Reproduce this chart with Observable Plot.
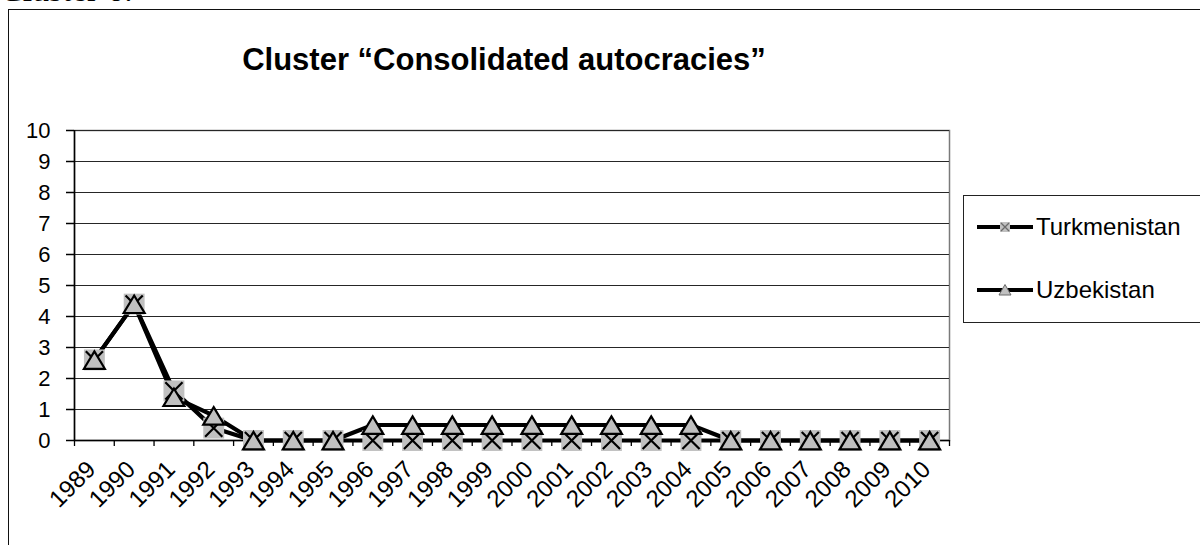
<!DOCTYPE html>
<html>
<head>
<meta charset="utf-8">
<script src="https://cdn.jsdelivr.net/npm/d3@7"></script>
<script src="https://cdn.jsdelivr.net/npm/@observablehq/plot@0.6"></script>
<style>
  body { margin: 0; background: #fff; overflow: hidden; }
  #page { position: relative; width: 1200px; height: 545px; overflow: hidden; font-family: Arial, "Liberation Sans", sans-serif; color: #000; }
  #doc-label { position: absolute; left: 0; top: -29px; font-family: "Liberation Serif", serif; font-size: 34px; white-space: nowrap; }
  #frame { position: absolute; left: 8px; top: 9px; width: 1300px; height: 700px; border: 1.5px solid #111; box-sizing: border-box; }
  #title { position: absolute; left: 0; width: 1008px; top: 42px; text-align: center; font-weight: bold; font-size: 31px; white-space: nowrap; }
  #chart { position: absolute; left: 0; top: 0; }
  #legend { position: absolute; left: 963px; top: 195px; width: 260px; height: 128px; border: 1.5px solid #222; box-sizing: border-box; background: #fff; }
  .entry { position: absolute; left: 0; height: 30px; display: flex; align-items: center; font-size: 24px; white-space: nowrap; }
  .entry svg { display: block; margin-left: 13px; margin-right: 3px; }
</style>
</head>
<body>
<div id="page">
  <div id="doc-label">Cluster 6:</div>
  <div id="frame"></div>
  <div id="chart"></div>
  <div id="title">Cluster “Consolidated autocracies”</div>
  <div id="legend">
    <div class="entry" style="top:16px">
      <svg width="56" height="14" viewBox="0 0 56 14">
        <line x1="0" y1="7" x2="56" y2="7" stroke="#000" stroke-width="4"/>
        <rect x="23" y="2" width="10" height="10" fill="#c0c0c0"/>
        <path d="M24,3 L32,11 M32,3 L24,11" stroke="#6a6a6a" stroke-width="1.3"/>
      </svg>Turkmenistan</div>
    <div class="entry" style="top:79px">
      <svg width="56" height="14" viewBox="0 0 56 14">
        <line x1="0" y1="7" x2="56" y2="7" stroke="#000" stroke-width="4"/>
        <path d="M28,1.5 L34,12 L22,12 Z" fill="#c0c0c0" stroke="#6a6a6a" stroke-width="1"/>
      </svg>Uzbekistan</div>
  </div>
</div>
<script>
// Years on the category axis
const years = [1989, 1990, 1991, 1992, 1993, 1994, 1995, 1996, 1997, 1998, 1999,
               2000, 2001, 2002, 2003, 2004, 2005, 2006, 2007, 2008, 2009, 2010];

// Scores per country, one value per year
const turkmenistan = [2.6, 4.4, 1.6, 0.4, 0, 0, 0, 0, 0, 0, 0,
                      0, 0, 0, 0, 0, 0, 0, 0, 0, 0, 0];
const uzbekistan   = [2.6, 4.4, 1.4, 0.8, 0, 0, 0, 0.5, 0.5, 0.5, 0.5,
                      0.5, 0.5, 0.5, 0.5, 0.5, 0, 0, 0, 0, 0, 0];

// Value axis tick labels
const yTicks = [0, 1, 2, 3, 4, 5, 6, 7, 8, 9, 10];

const series = [
  {name: "Turkmenistan", values: turkmenistan},
  {name: "Uzbekistan", values: uzbekistan}
];
const rows = series.flatMap(s => s.values.map((v, i) => ({year: years[i], country: s.name, value: v})));
const tkm = rows.filter(d => d.country === "Turkmenistan");
const uzb = rows.filter(d => d.country === "Uzbekistan");

// Category boundaries (tick marks sit between years)
const bounds = [years[0] - 0.5, ...years.map(y => y + 0.5)];

// Marker shapes sized from the symbol area Plot passes in
const squareSym = {draw(ctx, size) { const s = Math.sqrt(size) / 2; ctx.rect(-s, -s, 2 * s, 2 * s); }};
const crossSym = {draw(ctx, size) {
  const s = Math.sqrt(size) / 2 * 0.82;
  ctx.moveTo(-s, -s); ctx.lineTo(s, s); ctx.moveTo(s, -s); ctx.lineTo(-s, s);
}};
const triSym = {draw(ctx, size) {
  const s = Math.sqrt(size) / 2;
  ctx.moveTo(0, -0.82 * s); ctx.lineTo(s, 0.85 * s); ctx.lineTo(-s, 0.85 * s); ctx.closePath();
}};
const R = 11.8;

const chart = Plot.plot({
  width: 1200,
  height: 545,
  marginLeft: 74,
  marginRight: 251,
  marginTop: 130,
  marginBottom: 105,
  style: {background: "transparent", fontFamily: "Arial, 'Liberation Sans', sans-serif", color: "#000"},
  x: {type: "linear", domain: [bounds[0], bounds[bounds.length - 1]], label: null},
  y: {domain: [0, 10], label: null},
  marks: [
    Plot.frame({stroke: "#7a7a7a", strokeWidth: 1.5}),
    Plot.gridY(yTicks, {stroke: "#262626", strokeOpacity: 1, strokeWidth: 1.2}),
    Plot.ruleX([bounds[0]], {stroke: "#000", strokeWidth: 1.5}),
    Plot.ruleY([0], {stroke: "#000", strokeWidth: 1.5}),
    Plot.axisY(yTicks, {label: null, tickSize: 8, tickPadding: 16, fontSize: 22, stroke: "#000", strokeWidth: 1.5}),
    Plot.axisX(bounds, {label: null, tickSize: 6, tickFormat: () => "", stroke: "#000", strokeWidth: 1.3}),
    Plot.axisX(years, {label: null, tickSize: 0, tickPadding: 10, tickRotate: -45, fontSize: 24, dx: -3, dy: 15, tickFormat: d => String(d)}),
    Plot.line(rows, {x: "year", y: "value", z: "country", stroke: "#000", strokeWidth: 4.2, strokeLinejoin: "round"}),
    Plot.dot(tkm, {x: "year", y: "value", symbol: squareSym, r: R, fill: "#c0c0c0", stroke: "none"}),
    Plot.dot(tkm, {x: "year", y: "value", symbol: crossSym, r: R, fill: "none", stroke: "#000", strokeWidth: 2.2}),
    Plot.dot(uzb, {x: "year", y: "value", symbol: triSym, r: R, fill: "#c0c0c0", stroke: "#000", strokeWidth: 2.2})
  ]
});
document.getElementById("chart").appendChild(chart);
</script>
</body>
</html>
